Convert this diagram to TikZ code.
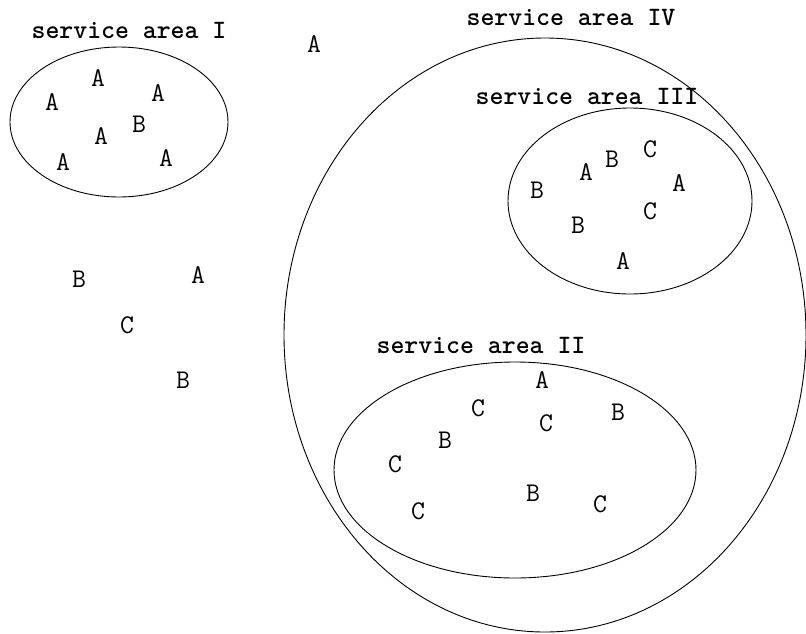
\documentclass[tikz,border=0pt]{standalone}
\usepackage{tikz}
\tikzstyle{kunde} = [
    font=\fontsize{27}{30}\selectfont\ttfamily,
    inner sep=0pt
]
\tikzstyle{gebietname} = [
    font=\fontsize{26.5}{29}\selectfont\ttfamily\bfseries,
    inner sep=0pt
]
\tikzstyle{gebiet} = [
    line width=0.9pt
]
\begin{document}
\begin{tikzpicture}[x=1pt, y=-1pt]
\useasboundingbox (0,0) rectangle (806,633);

% Servicegebiete
\draw[gebiet] (119,122) ellipse [x radius=109, y radius=75];
\draw[gebiet] (545,335) ellipse [x radius=261, y radius=297];
\draw[gebiet] (630,201) ellipse [x radius=122, y radius=93];
\draw[gebiet] (515,470) ellipse [x radius=181, y radius=108];

% Namen der Gebiete
\node[gebietname] (nameI) at (129,30) {service area I};
\node[gebietname] (nameII) at (481,345) {service area II};
\node[gebietname] (nameIII) at (587,96) {service area III};
\node[gebietname] (nameIV) at (571,18) {service area IV};

% Kunden in Gebiet I
\foreach \x/\y/\t [count=\n] in {98/78/A, 158/93/A, 52/102/A, 139/124/B,
    101/136/A, 63/162/A, 166/158/A} {
    \node[kunde] (i\n) at (\x,\y) {\t};
}

% Kunden in Gebiet III
\foreach \x/\y/\t [count=\n] in {537/190/B, 586/172/A, 612/159/B, 650/149/C,
    679/183/A, 650/211/C, 578/225/B, 623/261/A} {
    \node[kunde] (iii\n) at (\x,\y) {\t};
}

% Kunden in Gebiet II
\foreach \x/\y/\t [count=\n] in {542/380/A, 478/408/C, 618/412/B, 546/423/C,
    445/440/B, 395/464/C, 533/493/B, 600/504/C, 418/511/C} {
    \node[kunde] (ii\n) at (\x,\y) {\t};
}

% Kunden ausserhalb
\foreach \x/\y/\t [count=\n] in {314/44/A, 79/279/B, 198/275/A, 127/325/C,
    183/380/B} {
    \node[kunde] (aus\n) at (\x,\y) {\t};
}
\end{tikzpicture}
\end{document}
